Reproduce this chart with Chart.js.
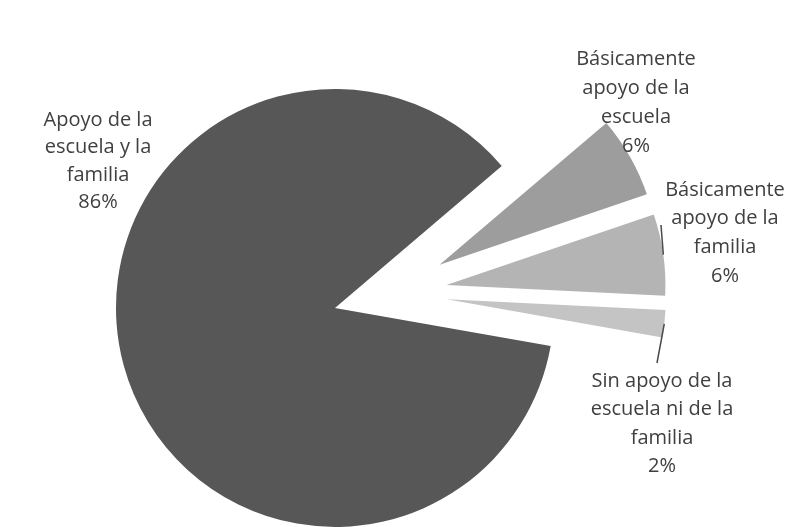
<!DOCTYPE html>
<html>
<head>
<meta charset="utf-8">
<script src="https://cdn.jsdelivr.net/npm/chart.js@4"></script>
<style>
  html, body { margin: 0; padding: 0; background: #fff; }
  #wrap { width: 795px; height: 527px; }
</style>
</head>
<body>
<div id="wrap"><canvas id="pieChart"></canvas></div>
<script>
const categories = [
    'Apoyo de la escuela y la familia',
    'Básicamente apoyo de la escuela',
    'Básicamente apoyo de la familia',
    'Sin apoyo de la escuela ni de la familia'
];
const percents = [86, 6, 6, 2];
// the same names, broken the way they are printed beside the slices
const labelLines = [
    ['Apoyo de la', 'escuela y la', 'familia'],
    ['Básicamente', 'apoyo de la', 'escuela'],
    ['Básicamente', 'apoyo de la', 'familia'],
    ['Sin apoyo de la', 'escuela ni de la', 'familia']
];
const sliceColors = ['#575757', '#9d9d9d', '#b4b4b4', '#c4c4c4'];

// every slice is pulled out from the centre by the same distance
const explode = 57;

// where each label sits: centre x, middle of first line, line step, leader end
const labelBoxes = [
    { x: 98, y: 120, step: 27.5, leader: null },
    { x: 636, y: 59, step: 29, leader: null },
    { x: 725, y: 190, step: 28.7, leader: [661, 225] },
    { x: 662, y: 381, step: 28.5, leader: [657, 363] }
];

const explodedSlices = {
    id: 'explodedSlices',
    beforeDatasetDraw(chart, args) {
        const ctx = chart.ctx;
        args.meta.data.forEach(arc => {
            const mid = (arc.startAngle + arc.endAngle) / 2;
            ctx.save();
            ctx.translate(Math.cos(mid) * explode, Math.sin(mid) * explode);
            arc.draw(ctx);
            ctx.restore();
        });
        return false;
    },
    afterDatasetsDraw(chart) {
        const ctx = chart.ctx;
        const arcs = chart.getDatasetMeta(0).data;
        ctx.save();
        ctx.fillStyle = '#404040';
        ctx.strokeStyle = '#4a4a4a';
        ctx.lineWidth = 1.5;
        ctx.font = '20px "Open Sans"';
        ctx.textAlign = 'center';
        ctx.textBaseline = 'middle';
        arcs.forEach((arc, i) => {
            const box = labelBoxes[i];
            if (box.leader) {
                const mid = (arc.startAngle + arc.endAngle) / 2;
                const r = arc.outerRadius + explode;
                ctx.beginPath();
                ctx.moveTo(arc.x + Math.cos(mid) * r, arc.y + Math.sin(mid) * r);
                ctx.lineTo(box.leader[0], box.leader[1]);
                ctx.stroke();
            }
            const lines = labelLines[i].concat(percents[i] + '%');
            lines.forEach((t, k) => ctx.fillText(t, box.x, box.y + k * box.step));
        });
        ctx.restore();
    }
};

let ctx = document.getElementById('pieChart').getContext('2d');

let myPieChart = new Chart(ctx, {
    type: 'pie',
    data: {
        labels: categories,
        datasets: [{
            data: percents,
            backgroundColor: sliceColors,
            borderWidth: 0,
            hoverOffset: 0
        }]
    },
    options: {
        responsive: true,
        maintainAspectRatio: false,
        animation: false,
        rotation: 100,
        layout: {
            padding: { left: 171, right: 186, top: 74, bottom: 15 }
        },
        plugins: {
            legend: { display: false },
            tooltip: { enabled: false }
        }
    },
    plugins: [explodedSlices]
});
</script>
</body>
</html>
